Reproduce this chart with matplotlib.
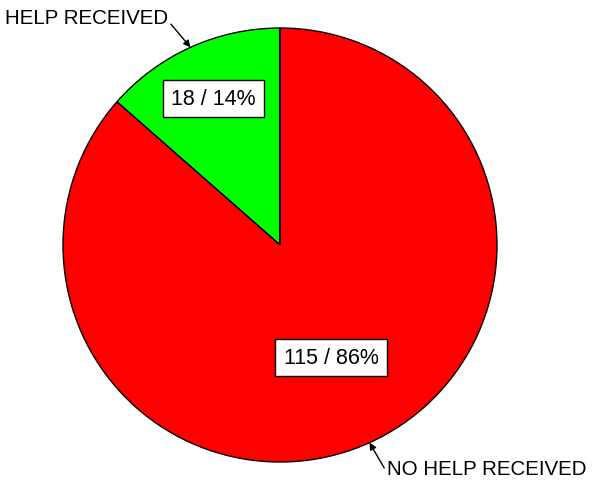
import numpy as np
import matplotlib
matplotlib.use("Agg")
from matplotlib import pyplot as plt

plt.rcParams['font.family'] = ['Liberation Sans', 'DejaVu Sans']

labels = ['HELP RECEIVED', 'NO HELP RECEIVED']
counts = [18, 115]
colors = ['#00ff00', '#ff0000']

W, H = 594, 485
cx, cy, R = 280, 485 - 246, 217

fig = plt.figure(figsize=(W / 100, H / 100), dpi=100)
ax = fig.add_axes([0, 0, 1, 1])
ax.set_xlim(0, W)
ax.set_ylim(0, H)
ax.set_aspect('equal')
ax.axis('off')

wedges, _ = ax.pie(counts, colors=colors, startangle=90, counterclock=True,
                   center=(cx, cy), radius=R,
                   wedgeprops=dict(edgecolor='black', linewidth=1.0))
ax.set_xlim(0, W)
ax.set_ylim(0, H)

total = sum(counts)
label_r = [0.74, 0.57]
text_pos = [(5, H - 18), (387, H - 470)]
for i, w in enumerate(wedges):
    mid = np.deg2rad((w.theta1 + w.theta2) / 2)
    # value box inside the slice
    lx = cx + label_r[i] * R * np.cos(mid)
    ly = cy + label_r[i] * R * np.sin(mid)
    pct = round(100 * counts[i] / total)
    ax.text(lx, ly, f"{counts[i]} / {pct}%", ha='center', va='center',
            fontsize=15.5,
            bbox=dict(boxstyle='square,pad=0.38', fc='white', ec='black', lw=1))
    # outside label with arrow to the edge
    ex = cx + R * np.cos(mid)
    ey = cy + R * np.sin(mid)
    ax.annotate(labels[i], xy=(ex, ey), xytext=text_pos[i],
                ha='left', va='center', fontsize=14.8,
                arrowprops=dict(arrowstyle='-|>', color='black', lw=1,
                                shrinkA=0, shrinkB=0, mutation_scale=10,
                                relpos=(1.0, 0.3) if i == 0 else (0.0, 0.3)))

fig.savefig('out.png', dpi=100)
